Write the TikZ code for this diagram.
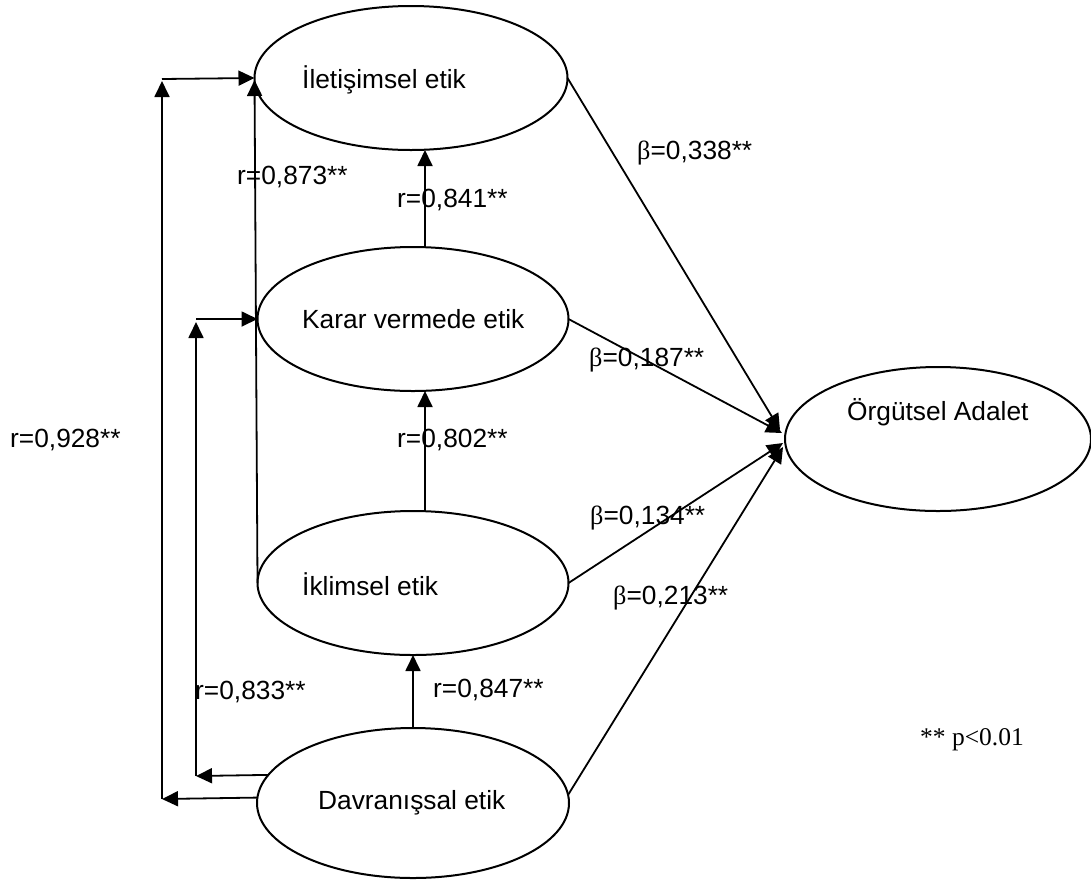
\documentclass[tikz,border=0pt]{standalone}
\usepackage{fontspec}
\setmainfont{Liberation Sans}
\newfontfamily\seriffont{Liberation Serif}
\usetikzlibrary{shapes.geometric,arrows.meta,calc}
\begin{document}
\begin{tikzpicture}[x=1pt,y=-1pt,
  ell/.style={draw, ellipse, line width=2pt, inner sep=0pt, outer sep=0pt},
  txt/.style={font=\fontsize{26.3}{30}\selectfont, inner sep=0pt, anchor=west},
  ptxt/.style={font=\seriffont\fontsize{25.5}{30}\selectfont, inner sep=0pt, anchor=west},
  arr/.style={line width=1.8pt, -{Triangle[length=16pt,width=15pt]}},
  ln/.style={line width=1.8pt}]
\useasboundingbox (0,0) rectangle (1091,879);
% ellipses
\node[ell, minimum width=313pt, minimum height=144pt] (ilet) at (411,78) {};
\node[ell, minimum width=311pt, minimum height=144pt] (kar) at (413,319) {};
\node[ell, minimum width=311pt, minimum height=144pt] (ikl) at (413,583) {};
\node[ell, minimum width=312pt, minimum height=150pt] (dav) at (413,803) {};
\node[ell, minimum width=306pt, minimum height=144pt] (org) at (938,439) {};
% texts inside
\node[txt] (tilet) at (302,80) {İletişimsel etik};
\node[txt] (tkar) at (302,319) {Karar vermede etik};
\node[txt] (tikl) at (302,584) {İklimsel etik};
\node[txt] (tdav) at (318,803) {Davranışsal etik};
\node[txt] (torg) at (847,412) {Örgütsel Adalet};
% corner coordinates
\coordinate (c1) at (196,776);
\coordinate (c1t) at (196,322);
\coordinate (c1h) at (196,319);
\coordinate (c2) at (162,799);
\coordinate (c2t) at (162,81);
\coordinate (c2h) at (162,79);
% correlations between neighbours
\draw[arr] ($(kar.north)+(12,0)$) -- ($(ilet.south)+(14,0)$);
\draw[arr] ($(ikl.north)+(12,0)$) -- ($(kar.south)+(12,0)$);
\draw[arr] (dav.north) -- (ikl.south);
\draw[arr] (ikl.west) -- ($(ilet.west)+(0,2)$);
% r=0,833 loop
\draw[arr] (dav.169.5) -- (c1);
\draw[arr] (c1) -- (c1t);
\draw[arr] (c1h) -- (kar.west);
% r=0,928 loop
\draw[arr] (dav.178.5) -- (c2);
\draw[arr] (c2) -- (c2t);
\draw[arr] (c2h) -- (ilet.west);
% regressions
\draw[arr] (ilet.east) -- ($(org.west)+(-5,-9)$);
\draw[arr] (kar.east) -- ($(org.west)+(-3,-6)$);
\draw[arr] (ikl.east) -- ($(org.west)+(-2,4)$);
\draw[arr] (dav.3) -- ($(org.west)+(-2,8)$);
% labels
\node[txt] (l873) at (237,177) {r=0,873**};
\node[txt] (l841) at (397,200) {r=0,841**};
\node[txt] (l802) at (397,440) {r=0,802**};
\node[txt] (l833) at (195,692) {r=0,833**};
\node[txt] (l847) at (433,690) {r=0,847**};
\node[txt] (l928) at (10,440) {r=0,928**};
\node[txt] (b338) at (637,153) {{\seriffont β}=0,338**};
\node[txt] (b187) at (589,360) {{\seriffont β}=0,187**};
\node[txt] (b134) at (590,518) {{\seriffont β}=0,134**};
\node[txt] (b213) at (613,598) {{\seriffont β}=0,213**};
\node[ptxt] (pval) at (920,740) {** p<0.01};
\end{tikzpicture}
\end{document}
